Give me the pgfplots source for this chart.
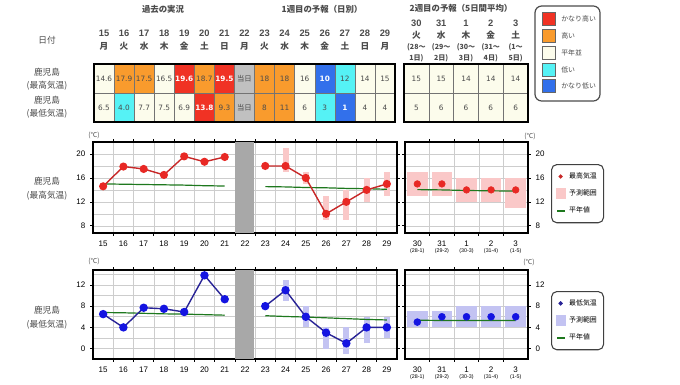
\documentclass[border=0pt]{standalone}
\usepackage{pgfplots}
\pgfplotsset{compat=1.18}
\usepackage{fontspec}
\setmainfont{Liberation Sans}
\newfontfamily\jp{Noto Sans CJK JP}
\newfontfamily\vd{DejaVu Sans}
\definecolor{kred}{RGB}{240,50,36}
\definecolor{korange}{RGB}{249,155,45}
\definecolor{kivory}{RGB}{252,252,236}
\definecolor{kcyan}{RGB}{85,242,245}
\definecolor{kblue}{RGB}{50,112,235}
\definecolor{kgray}{RGB}{192,192,192}
\definecolor{tdark}{RGB}{75,75,75}
\definecolor{bandgray}{RGB}{168,168,168}
\definecolor{maxdot}{RGB}{232,40,36}
\definecolor{maxline}{RGB}{200,40,40}
\definecolor{pinkrange}{RGB}{250,200,200}
\definecolor{mindot}{RGB}{20,20,225}
\definecolor{minline}{RGB}{40,35,150}
\definecolor{bluerange}{RGB}{195,195,242}
\definecolor{normalgreen}{RGB}{30,120,30}
\definecolor{gridgray}{RGB}{205,205,205}
\newcommand\fs[1]{\fontsize{#1}{#1}\selectfont}

\pgfplotsset{
  panel/.style={
    scale only axis, anchor=south west,
    axis line style={line width=0.9pt},
    tick align=outside,
    major tick length=2.2pt, minor tick length=2.2pt,
    every tick/.style={black, line width=0.5pt},
    major x tick style={draw=none},
    minor y tick style={draw=none},
    tick label style={font=\fs{6}},
    /pgf/number format/assume math mode=true,
    major grid style={gridgray, line width=0.45pt},
    minor grid style={gridgray, line width=0.45pt},
    ymajorgrids, yminorgrids, xminorgrids,
    unbounded coords=jump,
  },
  dayspanel/.style={panel, width=228pt, xmin=14.5, xmax=29.5,
    xtick={15,...,29}, minor xtick={15.5,16.5,...,28.5}},
  wk2panel/.style={panel, width=92.25pt, xmin=-0.5, xmax=4.5,
    xtick={0,...,4}, minor xtick={0.5,1.5,2.5,3.5},
    xticklabels={{30\\[-1pt]{\fs{4}(28-1)}},{31\\[-1pt]{\fs{4}(29-2)}},{1\\[-1pt]{\fs{4}(30-3)}},{2\\[-1pt]{\fs{4}(31-4)}},{3\\[-1pt]{\fs{4}(1-5)}}},
    x tick label style={align=center},
    yticklabel pos=right,
    legend cell align=left,
    legend style={draw=black!75, line width=0.8pt, rounded corners=4pt,
      font=\jp\fs{5.2}, inner xsep=3pt, inner ysep=4pt, row sep=3pt,
      anchor=north west}},
  maxy/.style={height=68.25pt, ymin=6.8, ymax=22, ytick={8,12,16,20}, minor ytick={10,14,18}},
  miny/.style={height=66.75pt, ymin=-1.95, ymax=14.8, ytick={0,4,8,12}, minor ytick={-2,2,6,10,14}},
}

\begin{document}
\begin{tikzpicture}
\begin{scope}[x=0.75pt,y=-0.75pt]
\path[use as bounding box, fill=white] (0,0) rectangle (680,382);
\coordinate (c1L) at (93,233);
\coordinate (c1R) at (405,233);
\coordinate (c2L) at (93,359);
\coordinate (c2R) at (405,359);

% headers
\node[font=\jp\bfseries\fs{6.3}, text=tdark] at (163,9) {過去の実況};
\node[font=\jp\bfseries\fs{6.3}, text=tdark] at (322,9) {1週目の予報（日別）};
\node[font=\jp\bfseries\fs{6.3}, text=tdark] at (461,8) {2週目の予報（5日間平均）};
\node[font=\jp\fs{6.5}, text=tdark] at (47,40) {日付};
\node[font=\jp\fs{6.5}, text=tdark] at (47,72) {鹿児島};
\node[font=\jp\fs{6.5}, text=tdark] at (47,86) {(最高気温)};
\node[font=\jp\fs{6.5}, text=tdark] at (47,100) {鹿児島};
\node[font=\jp\fs{6.5}, text=tdark] at (47,114) {(最低気温)};
\node[font=\jp\fs{6.5}, text=tdark] at (47,181) {鹿児島};
\node[font=\jp\fs{6.5}, text=tdark] at (47,196) {(最高気温)};
\node[font=\jp\fs{6.5}, text=tdark] at (47,310) {鹿児島};
\node[font=\jp\fs{6.5}, text=tdark] at (47,325) {(最低気温)};
\node[font=\jp\fs{5}, text=tdark] at (94,135) {(℃)};
\node[font=\jp\fs{5}, text=tdark] at (530,136) {(℃)};
\node[font=\jp\fs{5}, text=tdark] at (94,261) {(℃)};
\node[font=\jp\fs{5}, text=tdark] at (529,262) {(℃)};

\foreach \i/\n/\w in {0/15/月,1/16/火,2/17/水,3/18/木,4/19/金,5/20/土,6/21/日,7/22/月,8/23/火,9/24/水,10/25/木,11/26/金,12/27/土,13/28/日,14/29/月}{
  \node[font=\bfseries\fs{7}, text=tdark] at ({104+20.07*\i},33) {\n};
  \node[font=\jp\bfseries\fs{6.5}, text=tdark] at ({104+20.07*\i},46) {\w};
}
% table row 1
\foreach \i/\f/\tc/\t in {0/kivory/tdark/14.6, 1/korange/tdark/17.9, 2/korange/tdark/17.5, 3/kivory/tdark/16.5,
 4/kred/white/\textbf{19.6}, 5/korange/tdark/18.7, 6/kred/white/\textbf{19.5}, 7/kgray/tdark/{\jp 当日},
 8/korange/tdark/18, 9/korange/tdark/18, 10/kivory/tdark/16, 11/kblue/white/\textbf{10},
 12/kcyan/tdark/12, 13/kivory/tdark/14, 14/kivory/tdark/15}{
  \fill[\f] ({94+20.07*\i},64) rectangle ++(20.07,29);
  \node[text=\tc, font=\vd\fs{5.5}] at ({104+20.07*\i},78.5) {\t};
}
% table row 2
\foreach \i/\f/\tc/\t in {0/kivory/tdark/6.5, 1/kcyan/tdark/4.0, 2/kivory/tdark/7.7, 3/kivory/tdark/7.5,
 4/kivory/tdark/6.9, 5/kred/white/\textbf{13.8}, 6/korange/tdark/9.3, 7/kgray/tdark/{\jp 当日},
 8/korange/tdark/8, 9/korange/tdark/11, 10/kivory/tdark/6, 11/kcyan/tdark/3,
 12/kblue/white/\textbf{1}, 13/kivory/tdark/4, 14/kivory/tdark/4}{
  \fill[\f] ({94+20.07*\i},93) rectangle ++(20.07,29);
  \node[text=\tc, font=\vd\fs{5.5}] at ({104+20.07*\i},107.5) {\t};
}
\foreach \i in {1,...,14}{\draw[black!55, line width=0.4pt] ({94+20.07*\i},64) -- ({94+20.07*\i},122);}
\draw[black!55, line width=0.4pt] (94,93) -- (395,93);
\draw[black, line width=0.8pt] (94,64) rectangle (395,122);

% week 2 header + table
\foreach \i/\n/\w/\a/\b in {0/30/火/28/1, 1/31/水/29/2, 2/1/木/30/3, 3/2/金/31/4, 4/3/土/1/5}{
  \node[font=\bfseries\fs{7}, text=tdark] at ({416.4+24.8*\i},23) {\n};
  \node[font=\jp\bfseries\fs{6.5}, text=tdark] at ({416.4+24.8*\i},35) {\w};
  \node[font=\jp\bfseries\fs{5.3}, text=tdark] at ({416.4+24.8*\i},47) {(\a～};
  \node[font=\jp\bfseries\fs{5.3}, text=tdark] at ({416.4+24.8*\i},58) {\b 日)};
}
\foreach \i/\t/\u in {0/15/5, 1/15/6, 2/14/6, 3/14/6, 4/14/6}{
  \fill[kivory] ({404+24.8*\i},64) rectangle ++(24.8,58);
  \node[text=tdark, font=\vd\fs{5.5}] at ({416.4+24.8*\i},78.5) {\t};
  \node[text=tdark, font=\vd\fs{5.5}] at ({416.4+24.8*\i},107.5) {\u};
}
\foreach \i in {1,...,4}{\draw[black!55, line width=0.4pt] ({404+24.8*\i},64) -- ({404+24.8*\i},122);}
\draw[black!55, line width=0.4pt] (404,93) -- (528,93);
\draw[black, line width=0.8pt] (404,64) rectangle (528,122);

% colour legend
\draw[black!70, line width=0.9pt, rounded corners=5pt] (535,6) rectangle (600,101);
\foreach \c/\col/\t in {19/kred/かなり高い, 36/korange/高い, 53/kivory/平年並, 70/kcyan/低い, 86/kblue/かなり低い}{
  \filldraw[fill=\col, draw=black!60, line width=0.4pt] (542,\c-6.5) rectangle (555,\c+6.5);
  \node[anchor=west, font=\jp\fs{5.2}, text=tdark, inner sep=0pt] at (561,\c) {\t};
}
\end{scope}

% ---------------- max temperature -----------------
\begin{axis}[dayspanel, maxy, at={(c1L)}]
 \addplot[fill=bandgray, draw=none] coordinates {(21.52,6.8)(22.45,6.8)(22.45,22)(21.52,22)} -- cycle;
 \addplot[pinkrange, line width=4.5pt] coordinates {(24,17)(24,21) (24.5,nan) (25,15)(25,17) (25.5,nan) (26,9)(26,13) (26.5,nan) (27,9)(27,14) (27.5,nan) (28,12)(28,16) (28.5,nan) (29,13)(29,17)};
 \addplot[normalgreen, line width=0.9pt] coordinates {(15,15.0)(16,14.95)(17,14.9)(18,14.85)(19,14.8)(20,14.7)(21,14.65) (22,nan) (23,14.55)(24,14.5)(25,14.4)(26,14.35)(27,14.25)(28,14.2)(29,14.1)};
 \addplot[maxline, line width=1.05pt, mark=*, mark size=2.5pt, mark options={draw=maxdot, fill=maxdot}] coordinates {(15,14.6)(16,17.9)(17,17.5)(18,16.5)(19,19.6)(20,18.7)(21,19.5)(22,nan)(23,18)(24,18)(25,16)(26,10)(27,12)(28,14)(29,15)};
\end{axis}
\begin{axis}[wk2panel, maxy, at={(c1R)}, legend style={at={(1.187,0.758)}}]
 \addplot[pinkrange, line width=15.5pt, forget plot] coordinates {(0,13)(0,17) (0.5,nan) (1,13)(1,17) (1.5,nan) (2,12)(2,16) (2.5,nan) (3,12)(3,16) (3.5,nan) (4,11)(4,16)};
 \addplot[normalgreen, line width=0.9pt, forget plot] coordinates {(0,14.05)(1,14.0)(2,13.9)(3,13.85)(4,13.8)};
 \addplot[only marks, mark=*, mark size=2.5pt, mark options={draw=maxdot, fill=maxdot}, forget plot] coordinates {(0,15)(1,15)(2,14)(3,14)(4,14)};
 \addlegendimage{legend image code/.code={\path (0,0) (0.26cm,0); \fill[maxline, sharp corners] (0.12cm,0) circle (1.2pt);}}
 \addlegendentry{最高気温}
 \addlegendimage{legend image code/.code={\fill[pinkrange, sharp corners] (0.02cm,-0.13cm) rectangle (0.24cm,0.13cm);}}
 \addlegendentry{予測範囲}
 \addlegendimage{legend image code/.code={\draw[normalgreen, sharp corners, line width=1.3pt] (0.03cm,0) -- (0.23cm,0);}}
 \addlegendentry{平年値}
\end{axis}

% ---------------- min temperature -----------------
\begin{axis}[dayspanel, miny, at={(c2L)}]
 \addplot[fill=bandgray, draw=none] coordinates {(21.52,-1.95)(22.45,-1.95)(22.45,14.8)(21.52,14.8)} -- cycle;
 \addplot[bluerange, line width=4.5pt] coordinates {(24,9)(24,13) (24.5,nan) (25,4)(25,8) (25.5,nan) (26,0)(26,4) (26.5,nan) (27,-1)(27,4) (27.5,nan) (28,1)(28,6) (28.5,nan) (29,2)(29,6)};
 \addplot[normalgreen, line width=0.9pt] coordinates {(15,6.8)(16,6.75)(17,6.65)(18,6.55)(19,6.5)(20,6.4)(21,6.3) (22,nan) (23,6.2)(24,6.05)(25,5.95)(26,5.8)(27,5.65)(28,5.5)(29,5.4)};
 \addplot[minline, line width=1.05pt, mark=*, mark size=2.6pt, mark options={draw=mindot, fill=mindot}] coordinates {(15,6.5)(16,4.0)(17,7.7)(18,7.5)(19,6.9)(20,13.8)(21,9.3)(22,nan)(23,8)(24,11)(25,6)(26,3)(27,1)(28,4)(29,4)};
\end{axis}
\begin{axis}[wk2panel, miny, at={(c2R)}, legend style={at={(1.187,0.764)}}]
 \addplot[bluerange, line width=15.5pt, forget plot] coordinates {(0,4)(0,7) (0.5,nan) (1,4)(1,7) (1.5,nan) (2,4)(2,8) (2.5,nan) (3,4)(3,8) (3.5,nan) (4,4)(4,8)};
 \addplot[normalgreen, line width=0.9pt, forget plot] coordinates {(0,5.35)(1,5.3)(2,5.3)(3,5.3)(4,5.3)};
 \addplot[only marks, mark=*, mark size=2.6pt, mark options={draw=mindot, fill=mindot}, forget plot] coordinates {(0,5)(1,6)(2,6)(3,6)(4,6)};
 \addlegendimage{legend image code/.code={\path (0,0) (0.26cm,0); \fill[minline, sharp corners] (0.12cm,0) circle (1.2pt);}}
 \addlegendentry{最低気温}
 \addlegendimage{legend image code/.code={\fill[bluerange, sharp corners] (0.02cm,-0.13cm) rectangle (0.24cm,0.13cm);}}
 \addlegendentry{予測範囲}
 \addlegendimage{legend image code/.code={\draw[normalgreen, sharp corners, line width=1.3pt] (0.03cm,0) -- (0.23cm,0);}}
 \addlegendentry{平年値}
\end{axis}
\end{tikzpicture}
\end{document}
